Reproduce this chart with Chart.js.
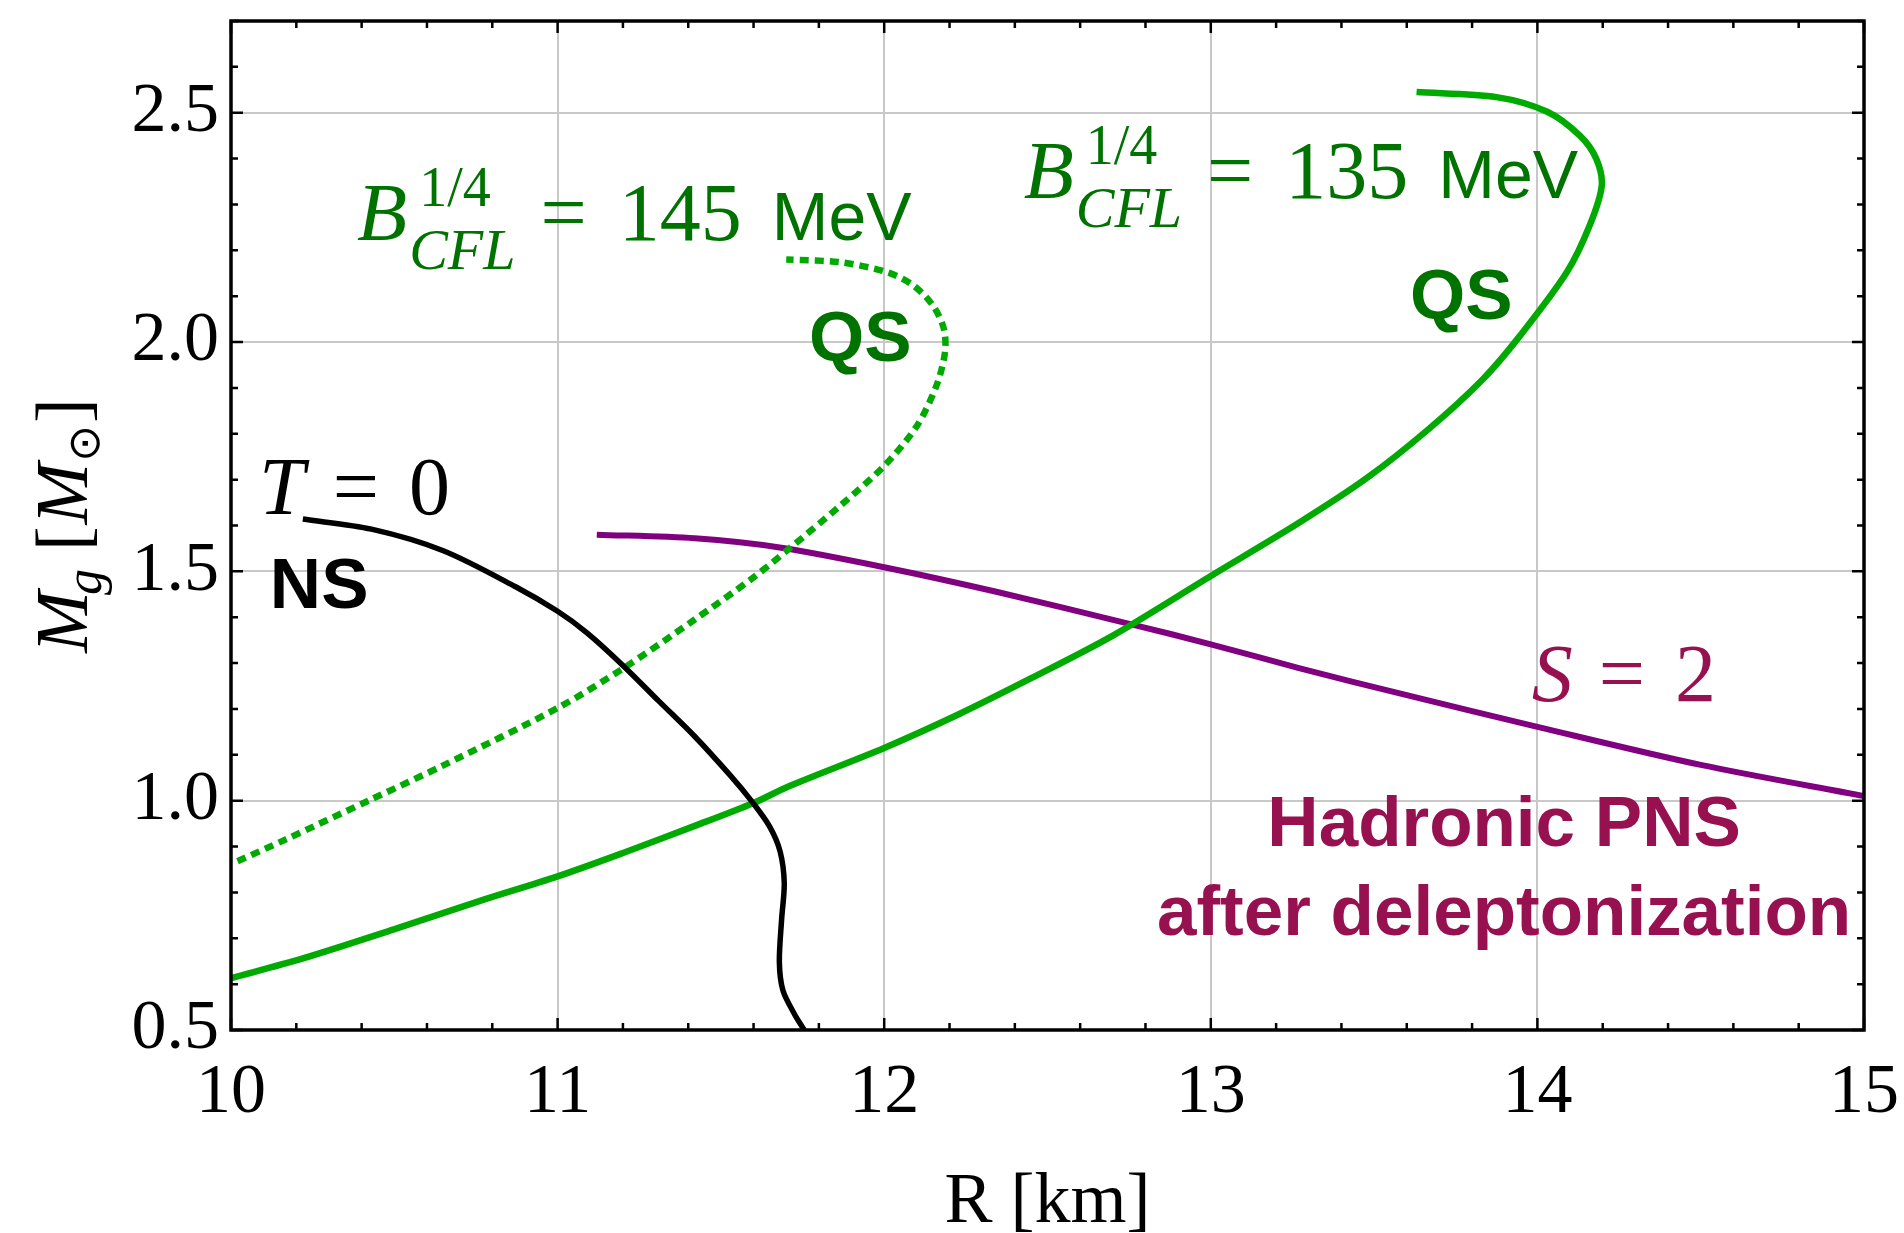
<!DOCTYPE html>
<html>
<head>
<meta charset="utf-8">
<title>Mass-radius: NS, QS and hadronic PNS</title>
<script src="https://cdn.jsdelivr.net/npm/chart.js@4.4.1/dist/chart.umd.min.js"></script>
<style>
    html, body { margin: 0; padding: 0; background: #fff; }
    #wrap { width: 1904px; height: 1233px; position: relative; }
</style>
</head>
<body>
<div id="wrap"><canvas id="Chart1"></canvas></div>
<script>
// R [km] / M_g [Msun] values

// T = 0 neutron star
const nsR = [10.22, 10.43, 10.65, 10.87, 11.0, 11.09, 11.2, 11.31, 11.42, 11.53, 11.594, 11.648, 11.681, 11.694, 11.686, 11.679, 11.69, 11.725, 11.755];
const nsM = [1.614, 1.592, 1.545, 1.467, 1.413, 1.366, 1.295, 1.217, 1.14, 1.054, 0.999, 0.945, 0.89, 0.82, 0.742, 0.648, 0.586, 0.535, 0.5];

// quark star, B^1/4 = 145 MeV (dotted)
const qs145R = [10.02, 10.16, 10.43, 10.65, 11.0, 11.2, 11.42, 11.6, 11.71, 11.865, 12.0, 12.1, 12.16, 12.186, 12.183, 12.15, 12.09, 12.01, 11.865, 11.7];
const qs145M = [0.868, 0.913, 1.003, 1.077, 1.202, 1.288, 1.395, 1.487, 1.55, 1.643, 1.73, 1.817, 1.905, 1.977, 2.028, 2.079, 2.123, 2.152, 2.174, 2.18];

// quark star, B^1/4 = 135 MeV
const qs135R = [10.0, 10.22, 10.51, 10.76, 11.0, 11.2, 11.42, 11.6, 11.71, 12.0, 12.23, 12.45, 12.7, 13.0, 13.27, 13.475, 13.665, 13.833, 13.947, 14.09, 14.16, 14.197, 14.18, 14.13, 14.03, 13.875, 13.63];
const qs135M = [0.613, 0.656, 0.722, 0.781, 0.835, 0.886, 0.945, 0.995, 1.032, 1.115, 1.189, 1.267, 1.36, 1.49, 1.606, 1.702, 1.809, 1.919, 2.014, 2.152, 2.254, 2.341, 2.4, 2.45, 2.502, 2.534, 2.545];

// hadronic PNS, S = 2
const pnsR = [11.12, 11.42, 11.68, 12.0, 12.34, 12.76, 13.0, 13.27, 13.6, 14.0, 14.5, 15.0];
const pnsM = [1.58, 1.572, 1.552, 1.509, 1.456, 1.384, 1.341, 1.289, 1.23, 1.161, 1.078, 1.01];

const xTicks = [10, 11, 12, 13, 14, 15];
const yTicks = [0.5, 1.0, 1.5, 2.0, 2.5];

const SERIF = "'Liberation Serif', 'DejaVu Serif', serif";
const SANS = "'Liberation Sans', Arial, sans-serif";
const GREEN_TXT = "#007200";
const PNS_TXT = "#97104f";

const toPoints = (r, m) => r.map((v, i) => ({ x: v, y: m[i] }));

// draws a run of text pieces; a piece with sup:true does not move the cursor,
// so the piece after it (subscript) is stacked under it
function drawRuns(ctx, x, y, runs, draw) {
    let cx = x;
    let pend = null;
    runs.forEach(function (r) {
        ctx.font = r.f;
        const w = ctx.measureText(r.t).width;
        const px = cx + (r.dx || 0);
        if (draw) ctx.fillText(r.t, px, y + (r.dy || 0));
        if (r.sup) {
            pend = px + w;
        } else {
            cx = pend === null ? px + w : Math.max(px + w, pend);
            pend = null;
        }
    });
    return cx - x;
}

const mathF = "italic 82px " + SERIF;
const numF = "82px " + SERIF;
const boldF = "bold 71px " + SANS;

function bagRuns(val) {
    return [
        { t: "B", f: mathF },
        { t: "1/4", f: "56px " + SERIF, dx: 12, dy: -34, sup: true },
        { t: "CFL", f: "italic 58px " + SERIF, dx: 2, dy: 29 },
        { t: "=", f: numF, dx: 25 },
        { t: val, f: numF, dx: 32 },
        { t: "MeV", f: "68px " + SANS, dx: 30 },
    ];
}

// annotations, anchored in data units (R, M)
const labels = [
    { r: 10.386, m: 2.223, color: GREEN_TXT, runs: bagRuns("145") },
    { r: 12.427, m: 2.314, color: GREEN_TXT, runs: bagRuns("135") },
    { r: 11.77, m: 1.958, color: GREEN_TXT, runs: [{ t: "QS", f: boldF }] },
    { r: 13.61, m: 2.05, color: GREEN_TXT, runs: [{ t: "QS", f: boldF }] },
    { r: 10.086, m: 1.624, color: "#000", runs: [{ t: "T", f: mathF }, { t: "=", f: numF, dx: 28 }, { t: "0", f: numF, dx: 30 }] },
    { r: 10.119, m: 1.421, color: "#000", runs: [{ t: "NS", f: boldF }] },
    { r: 13.983, m: 1.217, color: PNS_TXT, runs: [{ t: "S", f: mathF }, { t: "=", f: numF, dx: 26 }, { t: "2", f: numF, dx: 30 }] },
    { r: 13.898, m: 0.902, color: PNS_TXT, center: true, runs: [{ t: "Hadronic PNS", f: boldF }] },
    { r: 13.898, m: 0.707, color: PNS_TXT, center: true, runs: [{ t: "after deleptonization", f: boldF }] },
];

const annotate = {
    id: "annotate",
    beforeDatasetsDraw(chart) {
        const ctx = chart.ctx;
        const xs = chart.scales.x, ys = chart.scales.y;
        ctx.save();
        ctx.textBaseline = "alphabetic";
        ctx.textAlign = "left";
        labels.forEach(function (l) {
            let x = xs.getPixelForValue(l.r);
            const y = ys.getPixelForValue(l.m);
            if (l.center) x -= drawRuns(ctx, 0, 0, l.runs, false) / 2;
            ctx.fillStyle = l.color;
            drawRuns(ctx, x, y, l.runs, true);
        });
        ctx.restore();
    },
    afterDraw(chart) {
        const ctx = chart.ctx;
        const a = chart.chartArea;
        const xs = chart.scales.x, ys = chart.scales.y;
        ctx.save();
        // inward ticks on all four sides
        ctx.strokeStyle = "#000";
        ctx.lineWidth = 2.5;
        ctx.beginPath();
        for (let i = 0; i <= 25; i++) {
            const px = xs.getPixelForValue(10 + i * 0.2);
            const len = i % 5 === 0 ? 12 : 7;
            ctx.moveTo(px, a.bottom); ctx.lineTo(px, a.bottom - len);
            ctx.moveTo(px, a.top); ctx.lineTo(px, a.top + len);
        }
        for (let i = 0; i <= 22; i++) {
            const py = ys.getPixelForValue(0.5 + i * 0.1);
            const len = i % 5 === 0 ? 12 : 7;
            ctx.moveTo(a.left, py); ctx.lineTo(a.left + len, py);
            ctx.moveTo(a.right, py); ctx.lineTo(a.right - len, py);
        }
        ctx.stroke();
        // frame
        ctx.lineWidth = 3.5;
        ctx.strokeRect(a.left, a.top, a.right - a.left, a.bottom - a.top);

        // axis titles
        ctx.fillStyle = "#000";
        ctx.textBaseline = "alphabetic";
        const xt = [{ t: "R [km]", f: "72px " + SERIF }];
        const xw = drawRuns(ctx, 0, 0, xt, false);
        drawRuns(ctx, (a.left + a.right) / 2 - xw / 2, 1222, xt, true);

        const yt = [
            { t: "M", f: "italic 74px " + SERIF },
            { t: "g", f: "italic 52px " + SERIF, dx: -4, dy: 14 },
            { t: "[", f: "74px " + SERIF, dx: 18 },
            { t: "M", f: "italic 74px " + SERIF, dx: 2 },
            { t: "\u2299", f: "44px 'DejaVu Sans', " + SERIF, dx: 1, dy: 12 },
            { t: "]", f: "74px " + SERIF, dx: 2 },
        ];
        const yw = drawRuns(ctx, 0, 0, yt, false);
        ctx.translate(87, (a.top + a.bottom) / 2);
        ctx.rotate(-Math.PI / 2);
        drawRuns(ctx, -yw / 2, 0, yt, true);
        ctx.restore();
    },
};

const ctx1 = document.getElementById("Chart1").getContext("2d");
const chart1 = new Chart(ctx1, {
    type: "scatter",
    data: {
        datasets: [
            {
                label: "T = 0 NS",
                data: toPoints(nsR, nsM),
                borderColor: "#000000",
                borderWidth: 5.5,
            },
            {
                label: "QS 145 MeV",
                data: toPoints(qs145R, qs145M),
                borderColor: "#00aa00",
                borderWidth: 6.5,
                borderDash: [9, 6],
            },
            {
                label: "QS 135 MeV",
                data: toPoints(qs135R, qs135M),
                borderColor: "#00aa00",
                borderWidth: 6.5,
            },
            {
                label: "S = 2 PNS",
                data: toPoints(pnsR, pnsM),
                borderColor: "#800080",
                borderWidth: 6,
            },
        ].map(function (d) {
            return Object.assign({
                showLine: true,
                pointRadius: 0,
                pointHoverRadius: 0,
                fill: false,
                tension: 0.3,
                borderCapStyle: "butt",
            }, d);
        }),
    },
    options: {
        responsive: true,
        maintainAspectRatio: false,
        animation: false,
        events: [],
        layout: {
            padding: { top: 21, right: 40, bottom: 0, left: 0 },
        },
        plugins: {
            legend: { display: false },
            tooltip: { enabled: false },
            title: { display: false },
        },
        scales: {
            x: {
                type: "linear",
                min: 10,
                max: 15,
                afterBuildTicks: function (scale) {
                    scale.ticks = xTicks.map((v) => ({ value: v }));
                },
                afterFit: function (scale) {
                    scale.height = 203;
                    scale.paddingLeft = 0;
                    scale.paddingRight = 0;
                },
                grid: {
                    color: "#c8c8c8",
                    lineWidth: 2,
                    drawTicks: false,
                },
                border: { display: false },
                ticks: {
                    padding: 22,
                    color: "#000",
                    font: { family: SERIF, size: 70 },
                    maxRotation: 0,
                },
            },
            y: {
                type: "linear",
                min: 0.5,
                max: 2.7,
                afterBuildTicks: function (scale) {
                    scale.ticks = yTicks.map((v) => ({ value: v }));
                },
                afterFit: function (scale) {
                    scale.width = 231;
                    scale.paddingTop = 0;
                    scale.paddingBottom = 0;
                },
                grid: {
                    color: "#c8c8c8",
                    lineWidth: 2,
                    drawTicks: false,
                },
                border: { display: false },
                ticks: {
                    padding: 12,
                    color: "#000",
                    font: { family: SERIF, size: 70 },
                    callback: function (v) {
                        return Number(v).toFixed(1);
                    },
                },
            },
        },
    },
    plugins: [annotate],
});
</script>
</body>
</html>
